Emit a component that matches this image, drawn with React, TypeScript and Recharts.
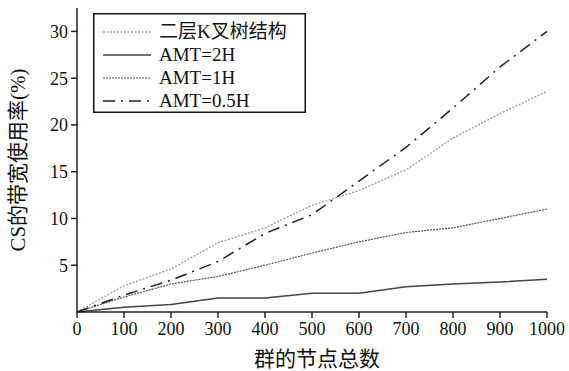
import {LineChart, Line, XAxis, YAxis, Label} from "recharts";

const nodeCounts = [0, 100, 200, 300, 400, 500, 600, 700, 800, 900, 1000];
const kTree = [0, 2.8, 4.6, 7.4, 9.0, 11.4, 13.0, 15.2, 18.6, 21.2, 23.6];
const amt2h = [0, 0.5, 0.8, 1.5, 1.5, 2.0, 2.0, 2.7, 3.0, 3.2, 3.5];
const amt1h = [0, 1.6, 3.0, 3.8, 5.0, 6.3, 7.5, 8.5, 9.0, 10.0, 11.0];
const amt05h = [0, 1.8, 3.4, 5.4, 8.4, 10.4, 14.0, 17.6, 21.8, 26.2, 30.0];
const yTicks = [5, 10, 15, 20, 25, 30];

const data = nodeCounts.map((n, i) => ({
    n,
    kTree: kTree[i],
    amt2h: amt2h[i],
    amt1h: amt1h[i],
    amt05h: amt05h[i],
}));

const series = [
    {key: "kTree", name: "二层K叉树结构", color: "#9a9a9a", dash: "2 1.5", width: 1.3},
    {key: "amt2h", name: "AMT=2H", color: "#444", dash: "", width: 1.5},
    {key: "amt1h", name: "AMT=1H", color: "#555", dash: "2 1", width: 1.2},
    {key: "amt05h", name: "AMT=0.5H", color: "#222", dash: "12 6 2 6", width: 1.5},
];

const font = "'Liberation Serif', 'Noto Sans CJK SC', serif";

const LegendBox = () => (
    <svg width={213} height={100} style={{position: "absolute", left: 93, top: 13}}>
        <rect x={0.75} y={0.75} width={211.5} height={98.5} fill="#fff" stroke="#111" strokeWidth={1.5}/>
        {series.map((s, i) => (
            <g key={s.key}>
                <line x1={10} x2={58} y1={19 + i * 23} y2={19 + i * 23} stroke={s.color}
                      strokeWidth={s.width} strokeDasharray={s.dash || undefined}/>
                <text x={66} y={25 + i * 23} fontSize={19} fontFamily={font} fill="#111">{s.name}</text>
            </g>
        ))}
    </svg>
);

const App = () => {
    return (
        <div style={{position: "absolute", left: 0, top: 0, width: 569, height: 371, background: "#fff"}}>
            <LineChart width={569} height={371} data={data} margin={{top: 8, right: 22, bottom: 0, left: 0}}>
                <XAxis dataKey="n" type="number" domain={[0, 1000]} ticks={nodeCounts} interval={0} height={59}
                       stroke="#222" strokeWidth={1.5} tickSize={6} tickMargin={4}
                       tick={{fontSize: 18, fontFamily: font, fill: "#111"}}>
                    <Label value="群的节点总数" position="insideBottom" offset={5} dx={5}
                           style={{fontSize: 21, fontFamily: font, fill: "#111"}}/>
                </XAxis>
                <YAxis type="number" domain={[0, 32.5]} ticks={yTicks} interval={0} width={77}
                       stroke="#222" strokeWidth={1.5} tickSize={6} tickMargin={3}
                       tick={{fontSize: 18, fontFamily: font, fill: "#111"}}>
                    <Label value="CS的带宽使用率(%)" angle={-90} position="insideLeft" offset={18}
                           style={{fontSize: 21, fontFamily: font, fill: "#111", textAnchor: "middle"}}/>
                </YAxis>
                {series.map((s) => (
                    <Line key={s.key} dataKey={s.key} name={s.name} stroke={s.color} strokeWidth={s.width}
                          strokeDasharray={s.dash || undefined} dot={false} type="linear"
                          isAnimationActive={false}/>
                ))}
            </LineChart>
            <LegendBox/>
        </div>
    );
};

export default App;
